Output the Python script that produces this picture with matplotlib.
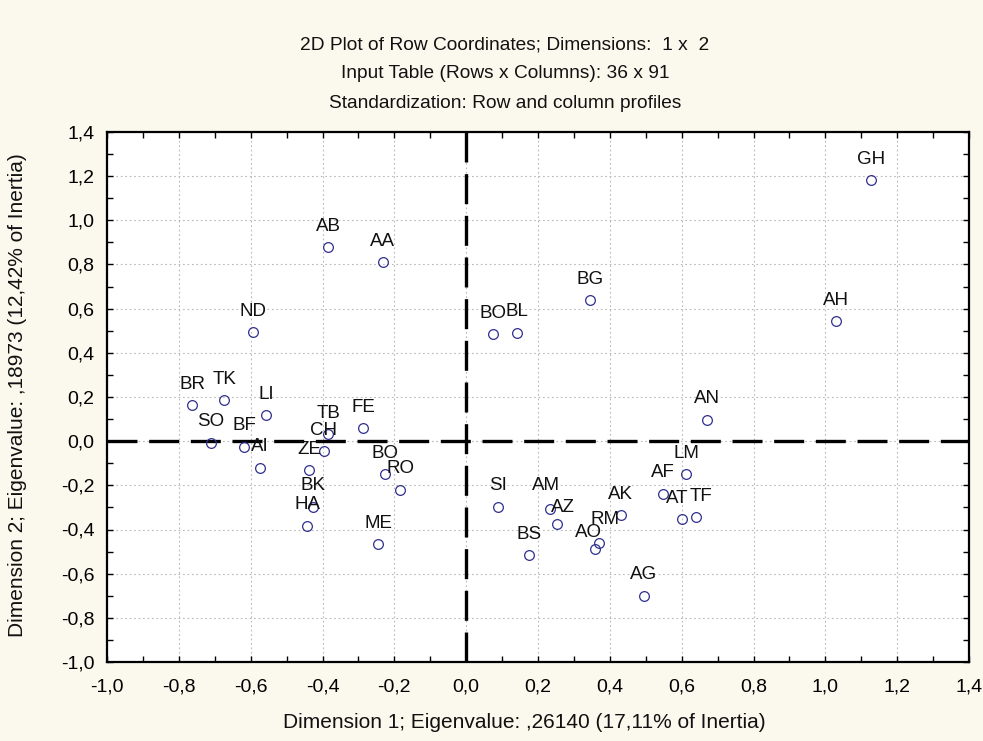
import matplotlib
matplotlib.use("Agg")
import matplotlib.pyplot as plt
from matplotlib.ticker import MultipleLocator, FuncFormatter

labels = ["GH", "AH", "AN", "LM", "AF", "AT", "TF", "AK", "AG", "RM", "AO", "AM", "AZ",
          "SI", "BS", "BG", "BO", "BL", "AB", "AA", "ND", "BR", "TK", "LI", "SO", "BF",
          "AI", "TB", "CH", "ZE", "FE", "BO", "RO", "BK", "HA", "ME"]
dim1 = [1.127, 1.030, 0.670, 0.612, 0.547, 0.600, 0.641, 0.431, 0.494, 0.371, 0.359, 0.233, 0.253,
        0.088, 0.176, 0.345, 0.074, 0.141, -0.384, -0.232, -0.593, -0.762, -0.674, -0.557, -0.710, -0.618,
        -0.575, -0.384, -0.397, -0.437, -0.286, -0.226, -0.184, -0.426, -0.442, -0.245]
dim2 = [1.183, 0.544, 0.098, -0.148, -0.237, -0.353, -0.344, -0.335, -0.700, -0.460, -0.490, -0.309, -0.374,
        -0.297, -0.517, 0.639, 0.484, 0.491, 0.878, 0.811, 0.493, 0.164, 0.185, 0.117, -0.007, -0.025,
        -0.120, 0.032, -0.045, -0.131, 0.060, -0.149, -0.220, -0.297, -0.383, -0.467]

title_lines = ["2D Plot of Row Coordinates; Dimensions:  1 x  2",
               "Input Table (Rows x Columns): 36 x 91",
               "Standardization: Row and column profiles"]
xlabel = "Dimension 1; Eigenvalue: ,26140 (17,11% of Inertia)"
ylabel = "Dimension 2; Eigenvalue: ,18973 (12,42% of Inertia)"

plt.rcParams['font.family'] = ['Liberation Sans', 'DejaVu Sans']

W, H = 983, 741
fig = plt.figure(figsize=(W / 100, H / 100), dpi=100)
fig.patch.set_facecolor('#FBF8EE')
ax = fig.add_axes([107 / W, 1 - 662 / H, (969 - 107) / W, (662 - 132) / H])
ax.set_facecolor('white')

ax.set_xlim(-1.0, 1.4)
ax.set_ylim(-1.0, 1.4)
ax.xaxis.set_major_locator(MultipleLocator(0.2))
ax.yaxis.set_major_locator(MultipleLocator(0.2))
ax.xaxis.set_minor_locator(MultipleLocator(0.1))
ax.yaxis.set_minor_locator(MultipleLocator(0.1))
fmt = FuncFormatter(lambda v, p: f"{v:.1f}".replace('.', ',').replace('-0,0', '0,0'))
ax.xaxis.set_major_formatter(fmt)
ax.yaxis.set_major_formatter(fmt)
ax.grid(True, which='major', linestyle=(0, (1.5, 2.5)), color='#b8b8b8', linewidth=0.8)
ax.set_axisbelow(True)
ax.tick_params(which='both', direction='in', top=True, right=True, length=4, width=1.0, color='black')
ax.tick_params(axis='x', which='major', pad=12, labelsize=14)
ax.tick_params(axis='y', which='major', pad=9, labelsize=14)
for s in ax.spines.values():
    s.set_linewidth(1.6)
    s.set_color('black')

ax.axhline(0, color='black', lw=2.4, linestyle=(0, (9, 3.5)), zorder=2)
ax.axvline(0, color='black', lw=2.4, linestyle=(0, (9, 3.5)), zorder=2)

ax.plot(dim1, dim2, linestyle='none', marker='o', markersize=7, markerfacecolor='none',
        markeredgecolor='#2f2f8f', markeredgewidth=0.9, zorder=3)
# small label offsets (points) to keep crowded labels legible
nudge = {5: (-3, 15), 6: (3, 15), 9: (4, 17), 10: (-5, 12), 11: (-3, 17), 12: (4, 12)}
for i, (lab, x, y) in enumerate(zip(labels, dim1, dim2)):
    ax.annotate(lab, (x, y), xytext=nudge.get(i, (0, 15)), textcoords='offset points',
                ha='center', va='center', fontsize=13.5, color='#111111', zorder=4)

for i, t in enumerate(title_lines):
    fig.text(505 / W, 1 - (45 + i * 29) / H, t, ha='center', va='center', fontsize=13.8, color='#111111')
fig.text(524 / W, 1 - 722 / H, xlabel, ha='center', va='center', fontsize=15, color='#111111')
fig.text(18 / W, 1 - 395 / H, ylabel, ha='center', va='center', rotation=90, fontsize=15, color='#111111')

fig.savefig('out.png', dpi=100, facecolor=fig.get_facecolor())
